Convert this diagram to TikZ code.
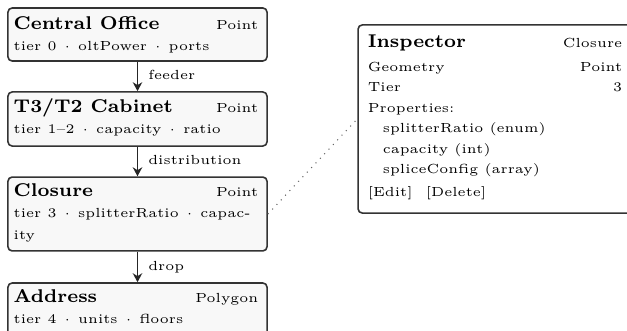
\documentclass[tikz,border=0pt]{standalone}
\usetikzlibrary{arrows.meta}
\definecolor{boxline}{HTML}{333333}
\definecolor{boxfill}{HTML}{F8F8F8}
\newcommand{\dotsep}{\hspace{0.6pt}$\cdot$\hspace{0.6pt}}
\begin{document}
\begin{tikzpicture}[x=0.379pt,y=-0.379pt,
  box/.style={draw=boxline, fill=boxfill, line width=0.6pt, rounded corners=1.6pt, minimum width=98.2pt, inner sep=0pt},
  panel/.style={draw=boxline, fill=white, line width=0.6pt, rounded corners=1.6pt, minimum width=103.8pt, minimum height=71.3pt, inner sep=0pt},
  title/.style={anchor=base west, inner sep=0pt, font=\scriptsize\bfseries},
  tag/.style={anchor=base east, inner sep=0pt, font=\tiny},
  txt/.style={anchor=base west, inner sep=0pt, font=\tiny},
  flow/.style={draw=black!85, line width=0.6pt, -{Stealth[length=3.4pt,width=3.6pt]}},
  flowlabel/.style={anchor=base west, inner sep=0pt, font=\tiny, xshift=3.8pt, yshift=-1.3pt},
  link/.style={draw=black!60, dotted, line width=0.4pt}
]
\useasboundingbox (0,0) rectangle (627,330);

% left column boxes
\node[box, minimum height=20.1pt] (co) at (137.5,34.5) {};
\node[title] (coTitle) at ([shift={(6,22)}]co.north west) {Central Office};
\node[tag] (coGeom) at ([shift={(-9,22)}]co.north east) {Point};
\node[txt] (coProps) at ([shift={(6,43)}]co.north west) {tier 0 \dotsep{} oltPower \dotsep{} ports};

\node[box, minimum height=20.5pt] (cab) at (137.5,119) {};
\node[title] (cabTitle) at ([shift={(6,21.5)}]cab.north west) {T3/T2 Cabinet};
\node[tag] (cabGeom) at ([shift={(-9,21.5)}]cab.north east) {Point};
\node[txt] (cabProps) at ([shift={(6,42.5)}]cab.north west) {tier 1--2 \dotsep{} capacity \dotsep{} ratio};

\node[box, minimum height=28pt] (cl) at (137.5,214) {};
\node[title] (clTitle) at ([shift={(6,20.5)}]cl.north west) {Closure};
\node[tag] (clGeom) at ([shift={(-9,20.5)}]cl.north east) {Point};
\node[txt] (clProps) at ([shift={(6,41.5)}]cl.north west) {tier 3 \dotsep{} splitterRatio \dotsep{} capac-};
\node[txt] (clProps2) at ([shift={(6,63)}]cl.north west) {ity};

\node[box, minimum height=20.1pt] (ad) at (137.5,309.5) {};
\node[title] (adTitle) at ([shift={(6,20.5)}]ad.north west) {Address};
\node[tag] (adGeom) at ([shift={(-9,20.5)}]ad.north east) {Polygon};
\node[txt] (adProps) at ([shift={(6,41.5)}]ad.north west) {tier 4 \dotsep{} units \dotsep{} floors};

% connectors
\draw[flow] (co) -- node[flowlabel] {feeder} (cab);
\draw[flow] (cab) -- node[flowlabel] {distribution} (cl);
\draw[flow] (cl) -- node[flowlabel] {drop} (ad);

% inspector
\node[panel] (insp) at (495,119) {};
\node[title] (inTitle) at ([shift={(10,23)}]insp.north west) {Inspector};
\node[tag] (inSel) at ([shift={(-10,23)}]insp.north east) {Closure};
\node[txt] (inGeomL) at ([shift={(10,47)}]insp.north west) {Geometry};
\node[tag] (inGeomV) at ([shift={(-10,47)}]insp.north east) {Point};
\node[txt] (inTierL) at ([shift={(10,67.5)}]insp.north west) {Tier};
\node[tag] (inTierV) at ([shift={(-10,67.5)}]insp.north east) {3};
\node[txt] (inProps) at ([shift={(10,88)}]insp.north west) {Properties:};
\node[txt] (inP1) at ([shift={(25,108.5)}]insp.north west) {splitterRatio (enum)};
\node[txt] (inP2) at ([shift={(25,129)}]insp.north west) {capacity (int)};
\node[txt] (inP3) at ([shift={(25,149.5)}]insp.north west) {spliceConfig (array)};
\node[txt] (inAct) at ([shift={(10,172)}]insp.north west) {[Edit]\hspace{2.6pt} [Delete]};

\draw[link] (cl.east) -- (insp.west);
\end{tikzpicture}
\end{document}
